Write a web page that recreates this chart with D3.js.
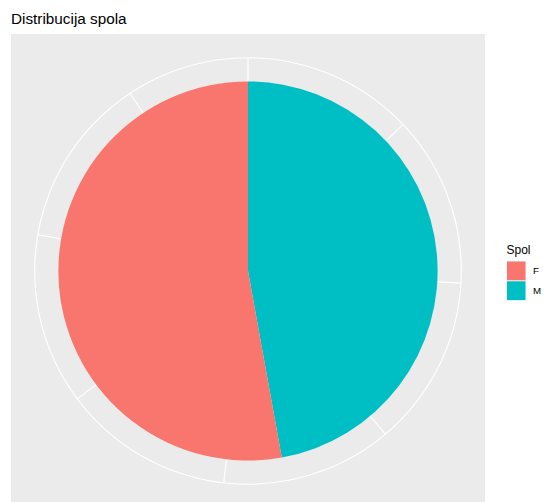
<!DOCTYPE html>
<html>
<head>
<meta charset="utf-8">
<script src="https://cdn.jsdelivr.net/npm/d3@7"></script>
<style>
  html, body { margin: 0; padding: 0; background: #ffffff; }
  svg { display: block; font-family: "Liberation Sans", Arial, Helvetica, sans-serif; }
</style>
</head>
<body>
<svg id="chart" width="543" height="502"></svg>
<script>
// ---- data ----
const categories = ["F", "M"];
const counts = [204, 182];          // F, M
const stackOrder = ["M", "F"];      // clockwise from 12 o'clock
const colors = ["#F8766D", "#00BFC4"];
const title = "Distribucija spola";
const legendTitle = "Spol";

// ---- layout ----
const svg = d3.select("#chart");
const panel = { x: 11, y: 34, size: 474 };
const cx = panel.x + panel.size / 2;
const cy = panel.y + panel.size / 2;

const total = d3.sum(counts);
const theta = d3.scaleLinear().domain([0, total]).range([0, 2 * Math.PI]);
const rScale = d3.scaleLinear().domain([0, 1]).range([0, panel.size]);
const rPie = rScale(0.4), rOuter = rScale(0.45);
const color = d3.scaleOrdinal().domain(categories).range(colors);

// panel background
svg.append("rect")
  .attr("x", panel.x).attr("y", panel.y)
  .attr("width", panel.size).attr("height", panel.size)
  .attr("fill", "#EBEBEB");

const g = svg.append("g").attr("transform", `translate(${cx},${cy})`);

// theta grid spokes
const breaks = theta.ticks(10).filter(d => d < total);
g.selectAll("line.spoke").data(breaks).join("line")
  .attr("class", "spoke")
  .attr("x1", 0).attr("y1", 0)
  .attr("x2", d => rOuter * Math.sin(theta(d)))
  .attr("y2", d => -rOuter * Math.cos(theta(d)))
  .attr("stroke", "#ffffff").attr("stroke-width", 1.1);

// outer circle
g.append("circle").attr("r", rOuter)
  .attr("fill", "none").attr("stroke", "#ffffff").attr("stroke-width", 1.1);

// pie slices
const data = stackOrder.map(k => ({ key: k, value: counts[categories.indexOf(k)] }));
let acc = 0;
const slices = data.map(d => {
  const s = { key: d.key, start: theta(acc), end: theta(acc + d.value) };
  acc += d.value;
  return s;
});
const arc = d3.arc().innerRadius(0).outerRadius(rPie);
g.selectAll("path.slice").data(slices).join("path")
  .attr("class", "slice")
  .attr("d", d => arc({ startAngle: d.start, endAngle: d.end }))
  .attr("fill", d => color(d.key));

// title
svg.append("text")
  .attr("x", panel.x).attr("y", 24)
  .attr("font-size", "15.3px").attr("fill", "#000")
  .text(title);

// legend
const lg = svg.append("g").attr("transform", "translate(506.5,0)");
lg.append("text").attr("x", 0).attr("y", 254)
  .attr("font-size", "12px").attr("fill", "#000").text(legendTitle);
const keyH = 19.8;
categories.forEach((c, i) => {
  const y0 = 261 + i * keyH;
  lg.append("rect").attr("x", 0).attr("y", y0)
    .attr("width", 19.5).attr("height", keyH)
    .attr("fill", "#F2F2F2");
  lg.append("rect").attr("x", 0.5).attr("y", y0 + 0.5)
    .attr("width", 18.5).attr("height", keyH - 1)
    .attr("fill", color(c));
  lg.append("text").attr("x", 26.5).attr("y", y0 + keyH / 2)
    .attr("dy", "0.35em")
    .attr("font-size", "9.7px").attr("fill", "#000").text(c);
});
</script>
</body>
</html>
